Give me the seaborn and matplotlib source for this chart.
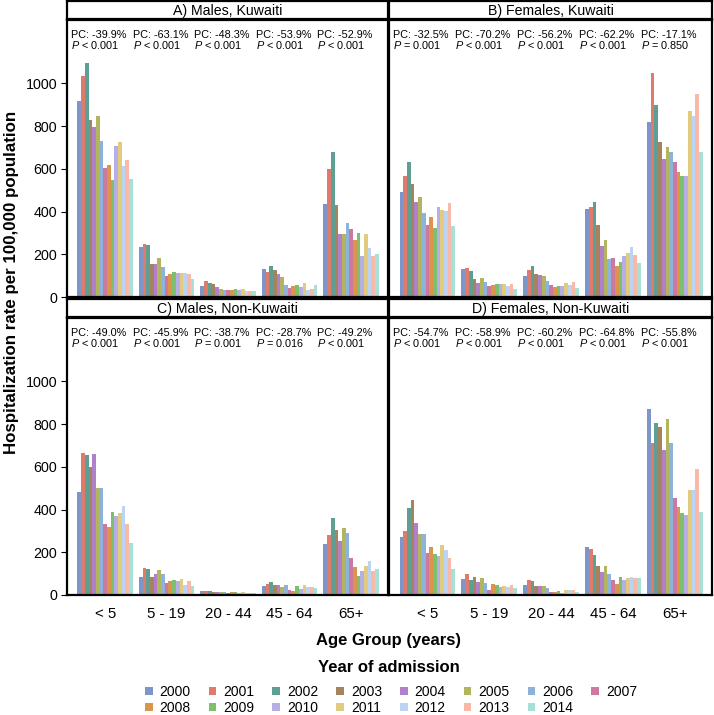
import numpy as np
import pandas as pd
import matplotlib
matplotlib.use("Agg")
import matplotlib.pyplot as plt
from matplotlib.patches import Patch
import seaborn as sns

plt.rcParams["font.family"] = ["Liberation Sans", "DejaVu Sans"]
plt.rcParams["mathtext.fontset"] = "custom"
plt.rcParams["mathtext.rm"] = "Liberation Sans"
plt.rcParams["mathtext.it"] = "Liberation Sans:italic"

age_groups = ["< 5", "5 - 19", "20 - 44", "45 - 64", "65+"]
years = [str(y) for y in range(2000, 2015)]
year_colors = ["#7d95c9", "#df7b6c", "#5f9e93", "#a6835f", "#b080cb", "#b3b45e",
               "#8db3da", "#cc789f", "#da944b", "#7cbf6d", "#b8aee6", "#e0cb7e",
               "#bcd4f4", "#f8b9a8", "#a6e0d7"]

panel_titles = ["A) Males, Kuwaiti", "B) Females, Kuwaiti",
                "C) Males, Non-Kuwaiti", "D) Females, Non-Kuwaiti"]

# rates per age group, one value per year 2000..2014
males_kuwaiti = [
    [917, 1034, 1098, 828, 797, 847, 731, 605, 619, 547, 709, 725, 612, 641, 553],
    [234, 248, 242, 155, 155, 183, 142, 97, 109, 119, 114, 111, 111, 106, 84],
    [52, 75, 67, 59, 45, 37, 33, 31, 31, 36, 31, 37, 27, 27, 27],
    [131, 117, 144, 128, 106, 92, 58, 44, 50, 55, 45, 64, 34, 37, 58],
    [436, 597, 681, 433, 294, 294, 347, 319, 267, 302, 192, 297, 231, 191, 203],
]
females_kuwaiti = [
    [492, 566, 634, 528, 447, 467, 391, 339, 373, 325, 422, 408, 402, 441, 331],
    [131, 134, 123, 83, 67, 89, 72, 52, 55, 61, 59, 61, 52, 61, 37],
    [97, 128, 147, 106, 103, 98, 75, 58, 47, 53, 52, 67, 55, 70, 41],
    [412, 423, 447, 339, 237, 266, 180, 183, 144, 166, 191, 205, 234, 195, 158],
    [819, 1047, 897, 725, 645, 702, 680, 634, 586, 566, 566, 869, 847, 952, 678],
]
males_nonkuwaiti = [
    [480, 663, 655, 601, 660, 500, 500, 334, 320, 390, 368, 382, 418, 331, 244],
    [84, 127, 120, 84, 96, 116, 96, 57, 65, 71, 67, 75, 48, 65, 43],
    [19, 19, 17, 16, 16, 14, 12, 11, 12, 12, 9, 12, 9, 11, 8],
    [43, 51, 61, 47, 47, 37, 47, 25, 19, 40, 26, 47, 36, 37, 31],
    [241, 280, 362, 303, 252, 315, 292, 175, 130, 89, 113, 137, 157, 113, 124],
]
females_nonkuwaiti = [
    [272, 301, 407, 447, 339, 286, 286, 196, 224, 193, 182, 233, 210, 175, 124],
    [75, 96, 70, 82, 61, 79, 54, 25, 51, 45, 37, 42, 39, 45, 31],
    [47, 68, 65, 43, 42, 42, 34, 16, 16, 20, 9, 23, 23, 23, 16],
    [224, 214, 189, 137, 106, 134, 96, 71, 51, 82, 71, 79, 85, 79, 79],
    [870, 713, 804, 787, 679, 825, 713, 453, 410, 382, 374, 492, 492, 589, 387],
]

pc_labels = [
    ["-39.9%", "-63.1%", "-48.3%", "-53.9%", "-52.9%"],
    ["-32.5%", "-70.2%", "-56.2%", "-62.2%", "-17.1%"],
    ["-49.0%", "-45.9%", "-38.7%", "-28.7%", "-49.2%"],
    ["-54.7%", "-58.9%", "-60.2%", "-64.8%", "-55.8%"],
]
p_labels = [
    ["< 0.001", "< 0.001", "< 0.001", "< 0.001", "< 0.001"],
    ["= 0.001", "< 0.001", "< 0.001", "< 0.001", "= 0.850"],
    ["< 0.001", "< 0.001", "= 0.001", "= 0.016", "< 0.001"],
    ["< 0.001", "< 0.001", "< 0.001", "< 0.001", "< 0.001"],
]

panel_values = [males_kuwaiti, females_kuwaiti, males_nonkuwaiti, females_nonkuwaiti]

W, H = 714, 715
fig = plt.figure(figsize=(W / 100, H / 100), dpi=100)


def px_box(x0, y0, x1, y1):
    return [x0 / W, 1 - y1 / H, (x1 - x0) / W, (y1 - y0) / H]


cols = [(67, 388), (389, 712)]
rows = [(1, 19, 297), (299, 317, 595)]

for k, values in enumerate(panel_values):
    r, c = divmod(k, 2)
    x0, x1 = cols[c]
    s0, s1, y1 = rows[r]

    # long table for seaborn
    df = pd.DataFrame({
        "age": np.repeat(age_groups, len(years)),
        "year": years * len(age_groups),
        "rate": np.ravel(values),
    })

    ax = fig.add_axes(px_box(x0, s1 + 1, x1, y1))
    sns.barplot(data=df, x="age", y="rate", hue="year", order=age_groups,
                hue_order=years, palette=year_colors, saturation=1,
                width=0.9, gap=0, legend=False, ax=ax, linewidth=0)
    ax.set_xlim(-0.62, 4.6)
    ax.set_ylim(0, 1297)
    ax.set_xlabel("")
    ax.set_ylabel("")
    for sp in ax.spines.values():
        sp.set_linewidth(1.6)
        sp.set_color("black")
    ax.tick_params(axis="x", length=0, labelsize=10.8, pad=9)
    ax.tick_params(axis="y", length=4, width=0.8, labelsize=10.3, pad=3)
    ax.set_yticks([0, 200, 400, 600, 800, 1000])
    if c == 1:
        ax.tick_params(axis="y", length=0, labelleft=False)
    if r == 0:
        ax.tick_params(axis="x", labelbottom=False)

    for i in range(len(age_groups)):
        ax.text(i - 0.55, 1228, "PC: " + pc_labels[k][i], fontsize=7.8,
                ha="left", va="center")
        ax.text(i - 0.55, 1178, r"$\mathit{P}$ " + p_labels[k][i], fontsize=7.8,
                ha="left", va="center")

    # strip header
    sax = fig.add_axes(px_box(x0, s0, x1, s1))
    sax.set_xticks([])
    sax.set_yticks([])
    for sp in sax.spines.values():
        sp.set_linewidth(1.6)
    sax.text(0.5, 0.45, panel_titles[k], fontsize=10.2, ha="center", va="center",
             transform=sax.transAxes)

fig.text(12 / W, 1 - 282 / H, "Hospitalization rate per 100,000 population",
         rotation=90, ha="center", va="center", fontsize=12.2, fontweight="bold")
fig.text(389 / W, 1 - 641 / H, "Age Group (years)", ha="center", va="center",
         fontsize=12, fontweight="bold")
fig.text(389 / W, 1 - 667 / H, "Year of admission", ha="center", va="center",
         fontsize=12, fontweight="bold")

# legend filled row by row: 2000-2007 on top, 2008-2014 below
order = []
for j in range(8):
    order.append(j)
    if j + 8 < len(years):
        order.append(j + 8)
handles = [Patch(facecolor=year_colors[j], edgecolor="none") for j in order]
labels = [years[j] for j in order]
fig.legend(handles, labels, ncol=8, loc="upper left",
           bbox_to_anchor=(145 / W, 1 - 685 / H), frameon=False, fontsize=10,
           handlelength=0.55, handleheight=0.55, handletextpad=0.5,
           columnspacing=1.3, labelspacing=0.15, borderpad=0, borderaxespad=0)

fig.savefig("out.png", dpi=100)
